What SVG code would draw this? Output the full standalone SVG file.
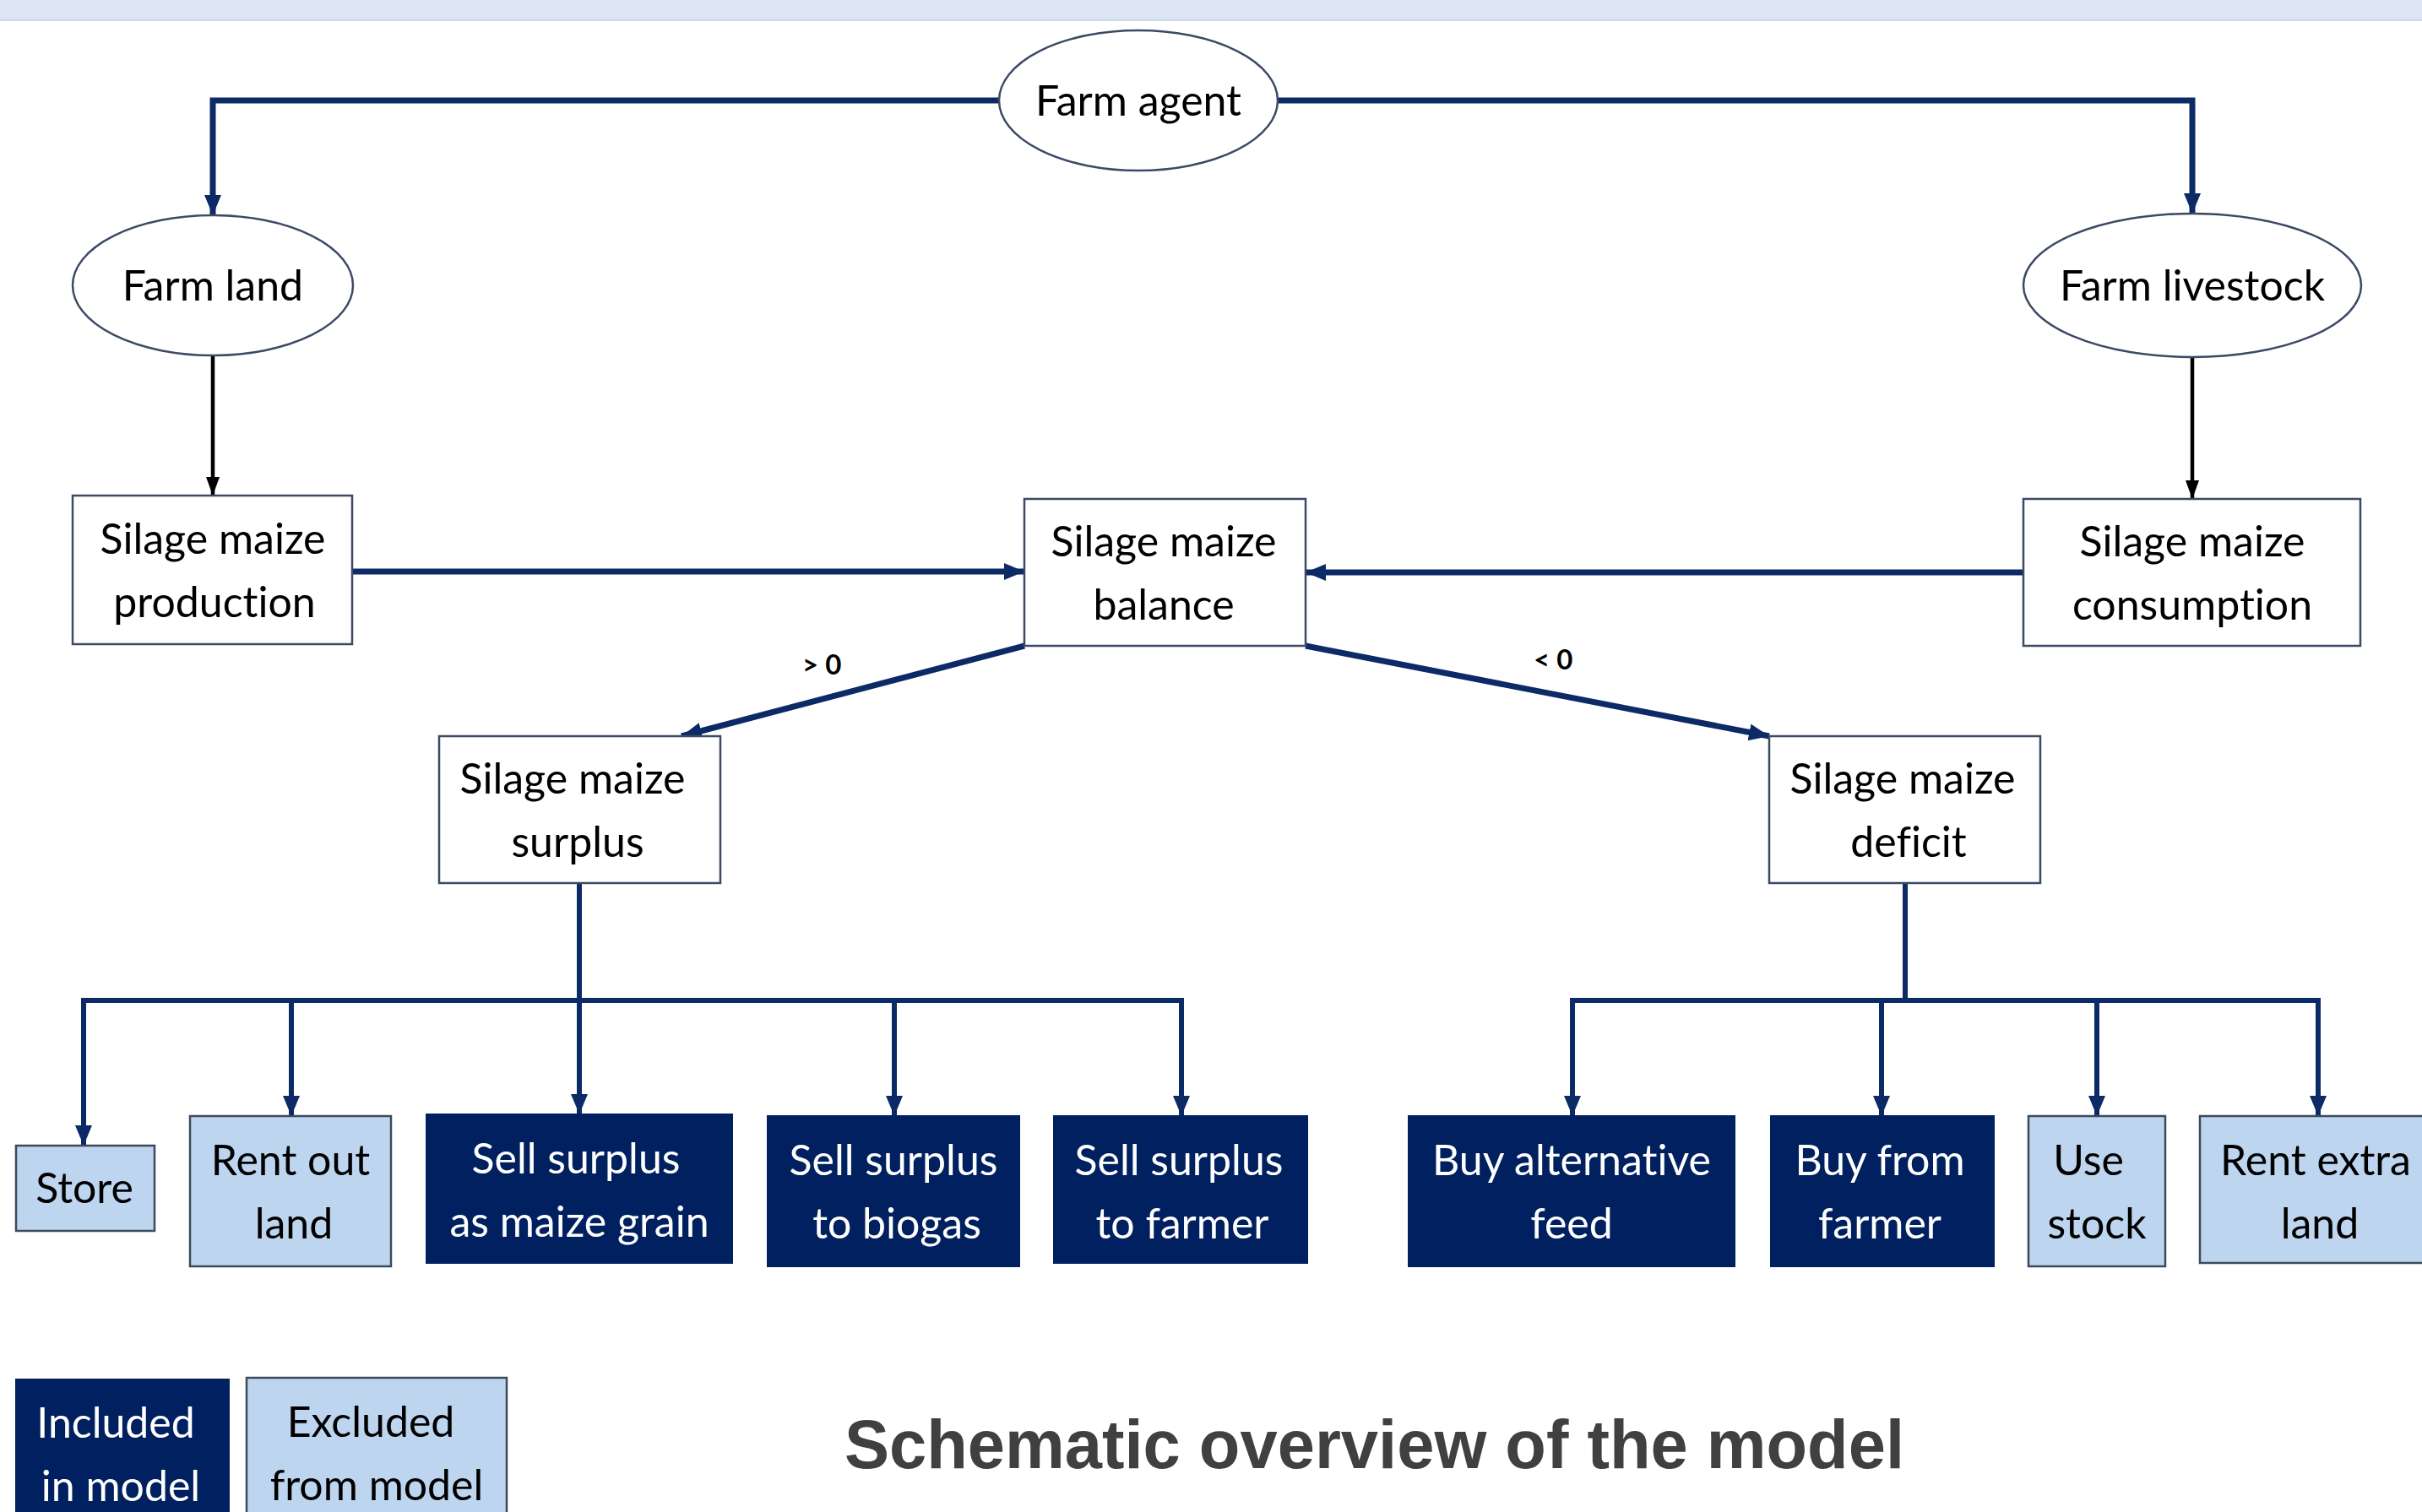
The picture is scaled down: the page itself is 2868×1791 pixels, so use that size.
<svg xmlns="http://www.w3.org/2000/svg" width="2868" height="1791" viewBox="0 0 2868 1791">
<style>
.t{font-family:Lato,"Open Sans","Liberation Sans",sans-serif;font-size:50px;text-anchor:middle;fill:#000;font-variant-ligatures:none;font-feature-settings:"liga" 0,"dlig" 0}
.w{fill:#fff}
.ell{fill:#fff;stroke:#3c4a66;stroke-width:2.5}
.box{fill:#fff;stroke:#3c4a66;stroke-width:2.5}
.inc{fill:#002060;stroke:#002060;stroke-width:2}
.exc{fill:#bdd5ee;stroke:#3c4a5c;stroke-width:2.5}
.blue{fill:none;stroke:#0b2a66;stroke-width:7}
.blue2{fill:none;stroke:#0b2a66;stroke-width:6}
.blk{fill:none;stroke:#000;stroke-width:4.5}
.lbl{font-family:Lato,"Open Sans","Liberation Sans",sans-serif;font-size:33px;font-weight:bold;fill:#000}
.title{font-family:"Liberation Sans",Arial,sans-serif;font-size:82px;font-weight:bold;fill:#404040}
</style>
<defs>
<marker id="ab" markerUnits="userSpaceOnUse" markerWidth="26" markerHeight="22" refX="24" refY="10" orient="auto"><path d="M0,0 L24,10 L0,20 z" fill="#0b2a66"/></marker>
<marker id="ak" markerUnits="userSpaceOnUse" markerWidth="24" markerHeight="18" refX="22" refY="8" orient="auto"><path d="M0,0 L22,8 L0,16 z" fill="#000"/></marker>
</defs>
<rect x="0" y="0" width="2868" height="1791" fill="#fff"/>
<rect x="0" y="0" width="2868" height="24" fill="#dce6f2"/>
<line x1="0" y1="24" x2="2868" y2="24" stroke="#cbd8e8" stroke-width="2"/>

<g id="connectors">
<polyline class="blue" points="1183,119 252,119 252,255" marker-end="url(#ab)"/>
<polyline class="blue" points="1514,119 2596,119 2596,253" marker-end="url(#ab)"/>
<line class="blk" x1="252" y1="421" x2="252" y2="587" marker-end="url(#ak)"/>
<line class="blk" x1="2596" y1="424" x2="2596" y2="591" marker-end="url(#ak)"/>
<line class="blue" x1="417" y1="677" x2="1213" y2="677" marker-end="url(#ab)"/>
<line class="blue" x1="2396" y1="678" x2="1546" y2="678" marker-end="url(#ab)"/>
<line class="blue" x1="1213" y1="765" x2="807" y2="872" marker-end="url(#ab)"/>
<line class="blue" x1="1546" y1="765" x2="2095" y2="872" marker-end="url(#ab)"/>
<text class="lbl" x="950" y="799">&gt; 0</text>
<text class="lbl" x="1816" y="793">&lt; 0</text>
<polyline class="blue2" points="686,1046 686,1185"/>
<line class="blue2" x1="96" y1="1185" x2="1402" y2="1185"/>
<line class="blue2" x1="99" y1="1182" x2="99" y2="1357" marker-end="url(#ab)"/>
<line class="blue2" x1="345" y1="1185" x2="345" y2="1322" marker-end="url(#ab)"/>
<line class="blue2" x1="686" y1="1185" x2="686" y2="1320" marker-end="url(#ab)"/>
<line class="blue2" x1="1059" y1="1185" x2="1059" y2="1322" marker-end="url(#ab)"/>
<line class="blue2" x1="1399" y1="1182" x2="1399" y2="1322" marker-end="url(#ab)"/>
<polyline class="blue2" points="2256,1046 2256,1185"/>
<line class="blue2" x1="1859" y1="1185" x2="2748" y2="1185"/>
<line class="blue2" x1="1862" y1="1182" x2="1862" y2="1322" marker-end="url(#ab)"/>
<line class="blue2" x1="2228" y1="1185" x2="2228" y2="1322" marker-end="url(#ab)"/>
<line class="blue2" x1="2483" y1="1185" x2="2483" y2="1322" marker-end="url(#ab)"/>
<line class="blue2" x1="2745" y1="1182" x2="2745" y2="1322" marker-end="url(#ab)"/>
</g>

<g id="farm-agent"><ellipse class="ell" cx="1348" cy="119" rx="165" ry="83"/><text class="t" x="1348" y="137">Farm agent</text></g>
<g id="farm-land"><ellipse class="ell" cx="252" cy="338" rx="166" ry="83"/><text class="t" x="252" y="356">Farm land</text></g>
<g id="farm-livestock"><ellipse class="ell" cx="2596" cy="338" rx="200" ry="85"/><text class="t" x="2596" y="356">Farm livestock</text></g>

<g id="production"><rect class="box" x="86" y="587" width="331" height="176"/><text class="t" x="252" y="656">Silage maize</text><text class="t" x="254" y="731">production</text></g>
<g id="balance"><rect class="box" x="1213" y="591" width="333" height="174"/><text class="t" x="1378" y="659">Silage maize</text><text class="t" x="1378" y="734">balance</text></g>
<g id="consumption"><rect class="box" x="2396" y="591" width="399" height="174"/><text class="t" x="2596" y="659">Silage maize</text><text class="t" x="2596" y="734">consumption</text></g>
<g id="surplus"><rect class="box" x="520" y="872" width="333" height="174"/><text class="t" x="678" y="940">Silage maize</text><text class="t" x="684" y="1015">surplus</text></g>
<g id="deficit"><rect class="box" x="2095" y="872" width="321" height="174"/><text class="t" x="2253" y="940">Silage maize</text><text class="t" x="2260" y="1015">deficit</text></g>

<g id="store"><rect class="exc" x="19" y="1357" width="164" height="101"/><text class="t" x="100" y="1425">Store</text></g>
<g id="rent-out"><rect class="exc" x="225" y="1322" width="238" height="178"/><text class="t" x="344" y="1392">Rent out</text><text class="t" x="348" y="1467">land</text></g>
<g id="sell-grain"><rect class="inc" x="505" y="1320" width="362" height="176"/><text class="t w" x="682" y="1390">Sell surplus</text><text class="t w" x="686" y="1465">as maize grain</text></g>
<g id="sell-biogas"><rect class="inc" x="909" y="1322" width="298" height="178"/><text class="t w" x="1058" y="1392">Sell surplus</text><text class="t w" x="1062" y="1467">to biogas</text></g>
<g id="sell-farmer"><rect class="inc" x="1248" y="1322" width="300" height="174"/><text class="t w" x="1396" y="1392">Sell surplus</text><text class="t w" x="1400" y="1467">to farmer</text></g>
<g id="buy-alt"><rect class="inc" x="1668" y="1322" width="386" height="178"/><text class="t w" x="1861" y="1392">Buy alternative</text><text class="t w" x="1861" y="1467">feed</text></g>
<g id="buy-farmer"><rect class="inc" x="2097" y="1322" width="264" height="178"/><text class="t w" x="2226" y="1392">Buy from</text><text class="t w" x="2226" y="1467">farmer</text></g>
<g id="use-stock"><rect class="exc" x="2402" y="1322" width="162" height="178"/><text class="t" x="2473" y="1392">Use</text><text class="t" x="2483" y="1467">stock</text></g>
<g id="rent-extra"><rect class="exc" x="2605" y="1322" width="275" height="174"/><text class="t" x="2742" y="1392">Rent extra</text><text class="t" x="2747" y="1467">land</text></g>

<g id="legend-included"><rect class="inc" x="19" y="1634" width="252" height="170"/><text class="t w" x="137" y="1703">Included</text><text class="t w" x="143" y="1778">in model</text></g>
<g id="legend-excluded"><rect class="exc" x="292" y="1632" width="308" height="172"/><text class="t" x="439" y="1702">Excluded</text><text class="t" x="446" y="1777">from model</text></g>

<text class="title" x="1000" y="1739" textLength="1255" lengthAdjust="spacingAndGlyphs">Schematic overview of the model</text>
</svg>
